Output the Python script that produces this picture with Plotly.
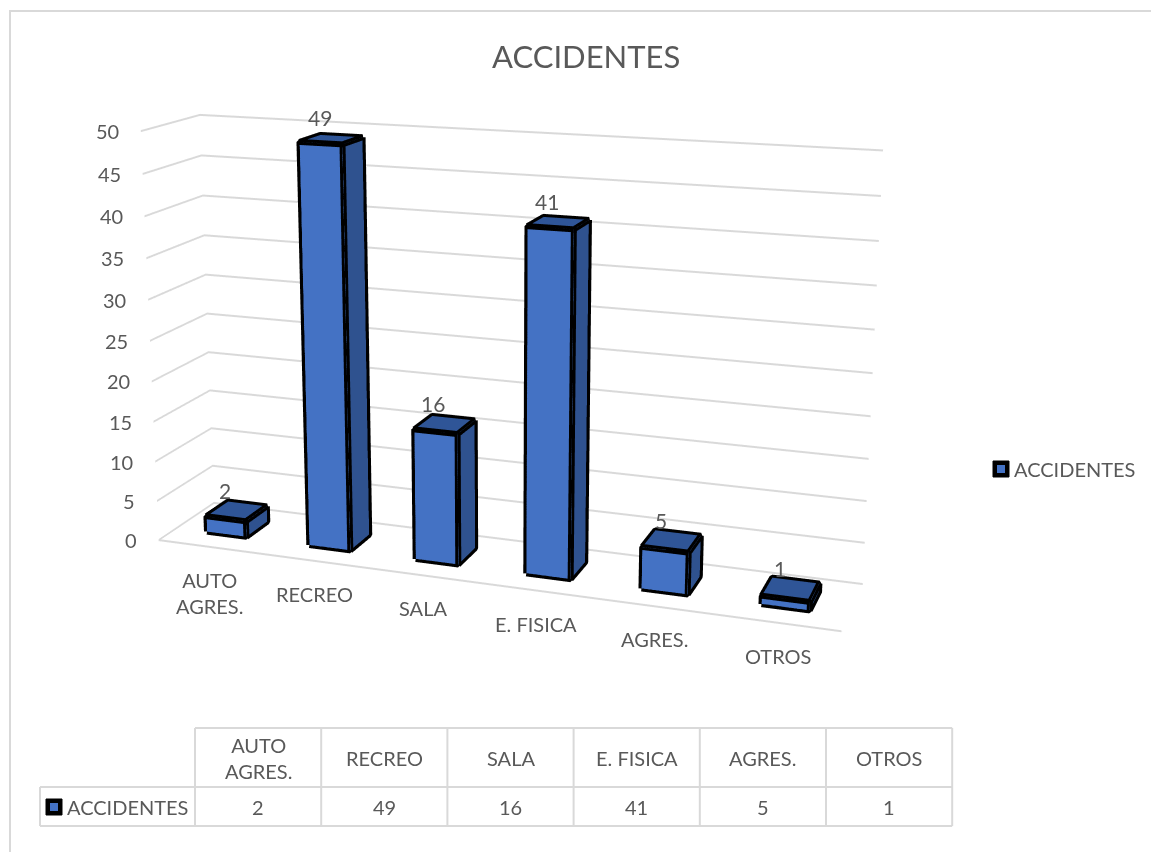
import math
import plotly.graph_objects as go

CATEGORIES = ["AUTO<br>AGRES.", "RECREO", "SALA", "E. FISICA", "AGRES.", "OTROS"]
VALUES = [2, 49, 16, 41, 5, 1]
SERIES = "ACCIDENTES"
Z_TICKS = [0, 5, 10, 15, 20, 25, 30, 35, 40, 45, 50]

W, H = 1151, 852
# The 3D scene needs a long lens, which plotly ties to the scene height: the figure is
# taller than the window and is slid up so the chart sits at the window's top.
FIG_H, OFFSET = 1592, 496
FRONT = "#4472C4"
SIDE = "#2F528F"
TOP = "#2F5597"
TXT = "#595959"
GRID = "#D9D9D9"
FONT = "Lato"
X0, X1 = 0.30, 0.69
Y0, Y1 = 0.32, 0.72


def px(x):
    return x / W


def py(y):
    return 1 - (y + OFFSET) / FIG_H


fig = go.Figure()


def face(xs, ys, zs, color):
    fig.add_trace(go.Mesh3d(
        x=xs, y=ys, z=zs, i=[0, 0], j=[1, 2], k=[2, 3], color=color, flatshading=True,
        lighting=dict(ambient=1, diffuse=0, specular=0, roughness=1, fresnel=0),
        hoverinfo="skip", showscale=False))


for n, v in enumerate(VALUES):
    a, b = n + X0, n + X1
    face([a, b, b, a], [Y0] * 4, [0, 0, v, v], FRONT)
    face([b, b, b, b], [Y0, Y1, Y1, Y0], [0, 0, v, v], SIDE)
    face([a, b, b, a], [Y0, Y0, Y1, Y1], [v] * 4, TOP)
    ex = [a, b, b, a, a, None, a, a, b, b, None, b, b, b]
    ey = [Y0, Y0, Y0, Y0, Y0, None, Y0, Y1, Y1, Y0, None, Y1, Y1, Y0]
    ez = [0, 0, v, v, 0, None, v, v, v, v, None, v, 0, 0]
    fig.add_trace(go.Scatter3d(x=ex, y=ey, z=ez, mode="lines", line=dict(color="black", width=12),
                               hoverinfo="skip", showlegend=False))

# floor front edge and category separators
fx, fy, fz = [0, len(VALUES)], [0, 0], [0, 0]
for n in range(len(VALUES) + 1):
    fx += [None, n, n]
    fy += [None, 0, 0]
    fz += [None, 0, -1.6]
fig.add_trace(go.Scatter3d(x=fx, y=fy, z=fz, mode="lines", line=dict(color=GRID, width=4),
                           hoverinfo="skip", showlegend=False))

ann3d = []
for n, v in enumerate(VALUES):
    ann3d.append(dict(x=n + 0.5, y=0.5, z=v, text=str(v), showarrow=False, yshift=22, xshift=-11,
                      font=dict(family=FONT, size=21, color=TXT)))
    ann3d.append(dict(x=n + 0.5, y=0, z=0, text=CATEGORIES[n], showarrow=False, yanchor="top", yshift=-19,
                      font=dict(family=FONT, size=20, color=TXT)))
for t in Z_TICKS:
    ann3d.append(dict(x=0, y=0, z=t, text=str(t), showarrow=False, xanchor="right", xshift=-20,
                      font=dict(family=FONT, size=20, color=TXT)))

hidden = dict(visible=True, showgrid=False, showline=False, zeroline=False, showticklabels=False,
              ticks="", title="", showbackground=False, showspikes=False)
DIST, YAW = 4.6, math.radians(19.5)
CZ, EYE_Z = 0.14, 1.21
PITCH = math.asin((EYE_Z - CZ) / DIST)
fig.update_layout(
    width=W, height=FIG_H, margin=dict(l=0, r=0, t=0, b=0), paper_bgcolor="white", showlegend=False,
    scene=dict(
        domain=dict(x=[0, px(1000)], y=[0, 1]),
        xaxis=dict(hidden, range=[0, 6]),
        yaxis=dict(hidden, range=[0, 1]),
        zaxis=dict(hidden, range=[0, 50], showgrid=True, gridcolor=GRID, gridwidth=4,
                   tickvals=Z_TICKS),
        aspectmode="manual", aspectratio=dict(x=1.74, y=0.30, z=1.05),
        camera=dict(eye=dict(x=DIST * math.sin(YAW) * math.cos(PITCH),
                             y=-DIST * math.cos(YAW) * math.cos(PITCH),
                             z=EYE_Z),
                    center=dict(x=0, y=0, z=CZ),
                    up=dict(x=0, y=0, z=1), projection=dict(type="perspective")),
        annotations=ann3d,
    ),
)

shapes = [dict(type="rect", xref="paper", yref="paper", x0=px(10), x1=px(1170), y0=py(11), y1=py(870),
               line=dict(color=GRID, width=2))]
annots = [dict(x=px(586), y=py(56), xref="paper", yref="paper", text=SERIES, showarrow=False,
               xanchor="center", yanchor="middle", font=dict(family=FONT, size=31, color=TXT))]


def key(cx, cy):
    shapes.append(dict(type="rect", xref="paper", yref="paper", x0=px(cx - 8), x1=px(cx + 8),
                       y0=py(cy - 8), y1=py(cy + 8), fillcolor="black", line=dict(color="black", width=1)))
    shapes.append(dict(type="rect", xref="paper", yref="paper", x0=px(cx - 4), x1=px(cx + 4),
                       y0=py(cy - 4), y1=py(cy + 4), fillcolor=FRONT, line=dict(width=0)))


key(1001, 469)
annots.append(dict(x=px(1012), y=py(469), xref="paper", yref="paper", text=SERIES, showarrow=False,
                   xanchor="left", yanchor="middle", font=dict(family=FONT, size=20, color=TXT)))

# data table
COL_L, COL_0, COL_W = 40, 195, 126.2
ROW_T, ROW_M, ROW_B = 728, 787, 826
n = len(VALUES)
right = COL_0 + n * COL_W


def hline(x0, x1, y):
    shapes.append(dict(type="line", xref="paper", yref="paper", x0=px(x0), x1=px(x1), y0=py(y), y1=py(y),
                       line=dict(color=GRID, width=2)))


def vline(x, y0, y1):
    shapes.append(dict(type="line", xref="paper", yref="paper", x0=px(x), x1=px(x), y0=py(y0), y1=py(y1),
                       line=dict(color=GRID, width=2)))


hline(COL_0, right, ROW_T)
hline(COL_L, right, ROW_M)
hline(COL_L, right, ROW_B)
vline(COL_L, ROW_M, ROW_B)
for c in range(n + 1):
    vline(COL_0 + c * COL_W, ROW_T, ROW_B)
for c in range(n):
    cx = COL_0 + (c + 0.5) * COL_W
    annots.append(dict(x=px(cx), y=py((ROW_T + ROW_M) / 2), xref="paper", yref="paper", text=CATEGORIES[c],
                       showarrow=False, xanchor="center", yanchor="middle",
                       font=dict(family=FONT, size=20, color=TXT)))
    annots.append(dict(x=px(cx), y=py((ROW_M + ROW_B) / 2), xref="paper", yref="paper", text=str(VALUES[c]),
                       showarrow=False, xanchor="center", yanchor="middle",
                       font=dict(family=FONT, size=20, color=TXT)))
key(54, 807)
annots.append(dict(x=px(65), y=py(807), xref="paper", yref="paper", text=SERIES, showarrow=False,
                   xanchor="left", yanchor="middle", font=dict(family=FONT, size=20, color=TXT)))
fig.update_layout(shapes=shapes, annotations=annots)
post = ("document.documentElement.style.overflow='hidden';"
        "document.body.style.margin='0';document.body.style.overflow='hidden';"
        "document.getElementById('{plot_id}').style.marginTop='-%dpx';" % OFFSET)
fig.write_html("out.html", post_script=post, config=dict(displayModeBar=False))
